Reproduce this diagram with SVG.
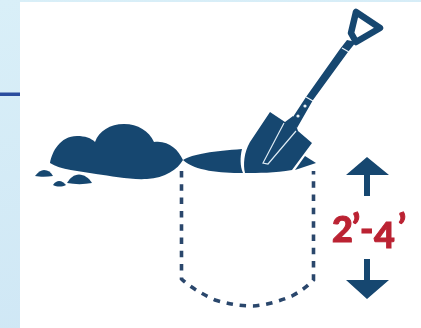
<svg xmlns="http://www.w3.org/2000/svg" width="421" height="328" viewBox="0 0 421 328">
<defs>
<linearGradient id="bg" x1="0" y1="0" x2="0.3" y2="1"><stop offset="0" stop-color="#d9eff8"/><stop offset="1" stop-color="#cfe7f5"/></linearGradient>
<filter id="soft" x="-5%" y="-5%" width="110%" height="110%"><feGaussianBlur stdDeviation="0.6"/></filter>
</defs>
<style>
.ink{fill:#17466f}
.dash{fill:none;stroke:#2a466c;stroke-width:3.600;stroke-dasharray:6.500 6.800}
.gap{fill:none;stroke:#e8f2f8}
.lbl{font-family:"Lato","Liberation Sans",sans-serif;font-weight:900;font-size:36px;fill:#bb2233;stroke:#bb2233;stroke-width:1}
</style>
<rect width="421" height="328" fill="url(#bg)"/>
<rect x="20" y="2" width="401" height="326" fill="#fff"/>
<rect x="0" y="92.500" width="20" height="3.500" fill="#2a4d9e"/>
<g filter="url(#soft)">
<g id="soil">
<path class="ink" d="M50 163C52 152 60 136 77 136C85 136 91 138 95 142C99 131 110 124 124 124C138 124 149 131 154 142C168 140 178 149 183 160C178 169 165 178 147 179C130 180 112 176 96 174C80 171 60 170 50 163Z"/>
<path class="ink" d="M183 160C192 154 215 151 242 149C240 157 240 166 243 173C220 173 195 171 183 160Z"/>
<path class="ink" d="M35 176C38 172 41 170 44 170C48 170 51 172 53 176C47 177 40 177 35 176Z"/>
<path class="ink" d="M53 185C55 182 57 181 59 181C62 181 64 183 66 185C62 187 57 187 53 185Z"/>
<path class="ink" d="M67 183C70 178 74 174.500 79 174.500C84 174.500 89 178 92 183C84 184.500 75 184.500 67 183Z"/>
<path class="ink" d="M295 170L305 156L316 163Z"/>
</g>
<g id="shovel">
<path fill="none" stroke="#17466f" stroke-width="6.500" stroke-linejoin="round" d="M356 12L351 33L356 42L380 28Z"/>
<path class="ink" d="M340 49L347 40L356 42L348 52L313 100L297 128L291 120L306 97Z"/>
<path class="ink" d="M270 112L285 122L293 116L298 131L312 143L292 170C275 173 258 173 245 173C243 165 244 152 250 142Z"/>
<path fill="none" stroke="#dcebf4" stroke-width="1.200" d="M284 123L263 163L268 164L296 131"/>
<circle cx="305" cy="106" r="1.600" fill="#e8f2f8"/><circle cx="298" cy="116" r="1.600" fill="#e8f2f8"/>
<path class="gap" stroke-width="1.300" d="M342 48L349 52M306 97L313 101"/>
</g>
<g id="connectors">
<path class="dash" d="M181.500 171V279C190 287 202 294 215 300C228 304 240 306 253 306C267 305 280 301 292 296C301 291 308 286 313.500 280V171"/>
<path class="ink" d="M367 157L389 175H370V196H364V175H346Z"/>
<path class="ink" d="M367 299L389 280H370V259H364V280H346Z"/>
</g>
<g id="depth-label"><text class="lbl" y="242"><tspan x="332">2</tspan><tspan x="352" dy="-2">’</tspan><tspan x="360" dy="2">-</tspan><tspan x="374" dy="6">4</tspan><tspan x="398" dy="-8">’</tspan></text></g>
</g>
</svg>
